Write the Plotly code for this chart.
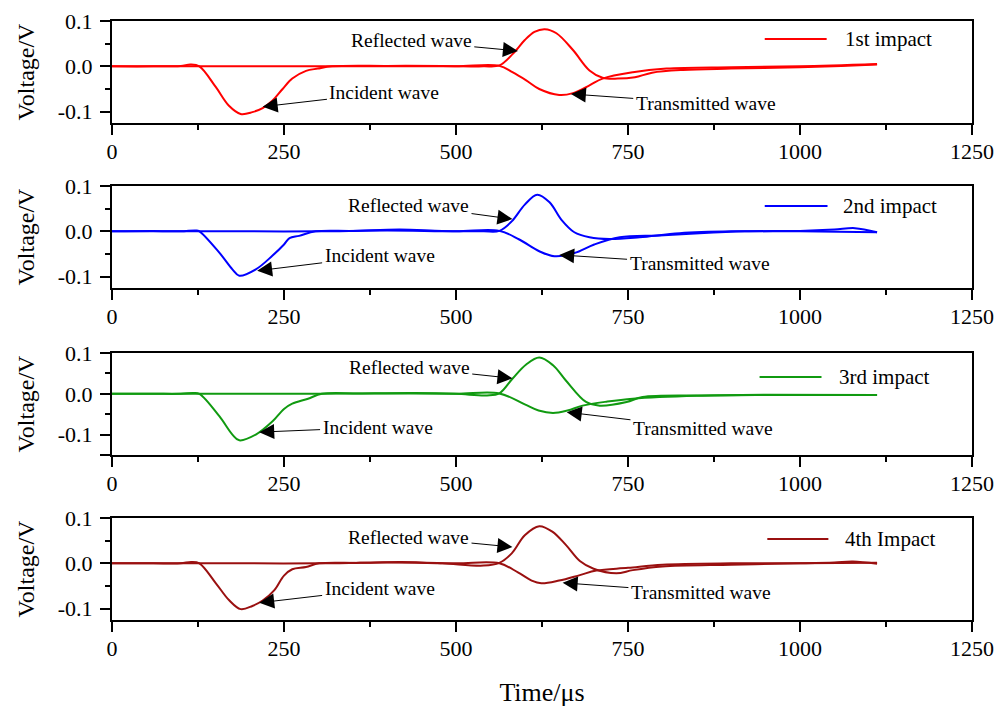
import plotly.graph_objects as go

FONT = "Liberation Serif, Times New Roman, serif"

# ---------------- data ----------------
# Panel 1 - 1st impact (incident + reflected signal, transmitted signal)
t1_ir = [0, 60, 100, 114, 127, 151, 170, 187, 204, 219, 233, 248, 262, 282, 299, 320, 400, 480, 540, 563,
         583, 600, 614, 629, 646, 670, 694, 713, 735, 760, 785, 830, 900, 1000, 1060, 1112]
v1_ir = [0, 0, 0.001, 0.004, 0, -0.046, -0.087, -0.105, -0.101, -0.092, -0.076, -0.05, -0.027, -0.01, -0.005, 0,
         0.001, 0.001, 0, 0.002, 0.028, 0.058, 0.076, 0.082, 0.073, 0.036, -0.009, -0.025, -0.027, -0.024,
         -0.014, -0.008, -0.005, -0.002, 0.001, 0.004]
t1_tr = [0, 100, 200, 300, 400, 500, 563, 582, 602, 621, 650, 670, 694, 713, 757, 806, 900, 1000, 1112]
v1_tr = [0, 0, 0, 0, 0, 0, 0.001, -0.013, -0.031, -0.05, -0.063, -0.059, -0.042, -0.027, -0.013, -0.005,
         -0.002, 0, 0.005]

# Panel 2 - 2nd impact
t2_ir = [0, 60, 100, 122, 127, 156, 175, 185, 209, 233, 250, 258, 272, 296, 350, 418, 480, 540, 563, 581,
         600, 618, 636, 653, 672, 694, 723, 767, 825, 900, 1000, 1112]
v2_ir = [0, 0.001, 0, 0.002, 0, -0.047, -0.084, -0.098, -0.084, -0.054, -0.029, -0.015, -0.01, 0, 0.001,
         0.004, 0.001, 0, 0.001, 0.022, 0.059, 0.081, 0.064, 0.026, -0.002, -0.013, -0.017, -0.013, -0.004,
         0, 0, -0.002]
t2_tr = [0, 100, 200, 300, 400, 500, 563, 592, 621, 643, 672, 701, 738, 796, 854, 920, 1000, 1050, 1080, 1112]
v2_tr = [0, 0, 0, 0, 0.002, 0, 0.001, -0.018, -0.044, -0.055, -0.048, -0.029, -0.013, -0.009, -0.004, 0,
         0.001, 0.004, 0.007, -0.002]

# Panel 3 - 3rd impact
t3_ir = [0, 60, 100, 118, 127, 156, 175, 185, 209, 233, 250, 262, 285, 305, 360, 440, 500, 545, 563, 582,
         602, 621, 641, 660, 689, 709, 748, 771, 850, 950, 1112]
v3_ir = [0, 0, 0, 0.002, 0, -0.055, -0.1, -0.114, -0.1, -0.068, -0.037, -0.024, -0.012, 0, 0.001, 0.002,
         0, -0.004, 0.001, 0.037, 0.072, 0.089, 0.07, 0.032, -0.02, -0.029, -0.02, -0.008, -0.004, -0.002,
         -0.003]
t3_tr = [0, 100, 200, 300, 400, 500, 563, 600, 620, 641, 662, 684, 720, 757, 850, 950, 1112]
v3_tr = [0, 0, 0, 0, 0.001, 0, 0.001, -0.026, -0.041, -0.047, -0.041, -0.029, -0.019, -0.012, -0.005,
         -0.003, -0.003]

# Panel 4 - 4th impact
t4_ir = [0, 60, 100, 115, 127, 151, 170, 187, 204, 219, 236, 250, 262, 282, 301, 360, 420, 480, 540, 563,
         581, 600, 621, 640, 660, 680, 700, 733, 757, 800, 900, 1000, 1050, 1077, 1112]
v4_ir = [0, 0, 0, 0.003, 0, -0.044, -0.081, -0.101, -0.094, -0.082, -0.059, -0.027, -0.013, -0.008, 0,
         0.001, 0.003, 0, -0.005, 0.001, 0.022, 0.062, 0.082, 0.07, 0.04, 0.005, -0.012, -0.022, -0.015,
         -0.007, -0.003, 0, 0.002, 0.004, -0.001]
t4_tr = [0, 100, 200, 300, 400, 500, 563, 590, 610, 624, 650, 680, 704, 750, 800, 900, 1000, 1112]
v4_tr = [0, 0, 0, 0, 0.002, 0, 0, -0.02, -0.038, -0.044, -0.038, -0.026, -0.016, -0.01, -0.003, 0, 0, 0.001]

series_names = ["1st impact", "2nd impact", "3rd impact", "4th Impact"]
series_colors = ["#ff0000", "#0000ff", "#109a10", "#9a1010"]

x_tick_vals = [0, 250, 500, 750, 1000, 1250]
x_tick_labels = ["0", "250", "500", "750", "1000", "1250"]
x_minor_vals = [125, 375, 625, 875, 1125]

y_tick_vals = [-0.1, 0.0, 0.1]
y_tick_labels = ["-0.1", "0.0", "0.1"]
y_tick_vals_p3 = [-0.15, -0.1, 0.0, 0.1]
y_tick_labels_p3 = ["", "-0.1", "0.0", "0.1"]
y_minor_vals = [-0.05, 0.05]

y_ranges = [[-0.125, 0.1], [-0.125, 0.1], [-0.15, 0.1], [-0.125, 0.1]]

# annotation anchors: (text centre t, v), (arrow head t, v)
ann_reflected = [((435, 0.056), (590, 0.034)), ((431, 0.058), (582, 0.027)),
                 ((432, 0.065), (582, 0.038)), ((431, 0.058), (582, 0.036))]
ann_incident = [((396, -0.058), (219, -0.089)), ((389, -0.054), (211, -0.087)),
                ((386, -0.082), (214, -0.094)), ((389, -0.056), (214, -0.087))]
ann_transmitted = [((863, -0.082), (667, -0.061)), ((854, -0.072), (650, -0.052)),
                   ((859, -0.085), (661, -0.045)), ((856, -0.065), (655, -0.043))]

# legend placement inside each panel (axis-domain fractions)
legend_pos = [(0.759, 0.831, 0.824, 0.850), (0.759, 0.832, 0.804, 0.848),
              (0.753, 0.825, 0.765, 0.843), (0.762, 0.833, 0.794, 0.850)]

# ---------------- figure ----------------
panels = [(t1_ir, v1_ir, t1_tr, v1_tr), (t2_ir, v2_ir, t2_tr, v2_tr),
          (t3_ir, v3_ir, t3_tr, v3_tr), (t4_ir, v4_ir, t4_tr, v4_tr)]

# vertical domains (paper fractions), top panel first
domains = [[0.8297, 1.0], [0.5543, 0.7245], [0.2755, 0.4457], [0.0, 0.1703]]

fig = go.Figure()
for i, (ta, va, tb, vb) in enumerate(panels):
    xa = "x" if i == 0 else f"x{i+1}"
    ya = "y" if i == 0 else f"y{i+1}"
    for tt, vv in ((ta, va), (tb, vb)):
        fig.add_trace(go.Scatter(x=tt, y=vv, mode="lines", xaxis=xa, yaxis=ya,
                                 line=dict(color=series_colors[i], width=2, shape="spline", smoothing=1.0),
                                 showlegend=False, hoverinfo="skip"))

tickfont = dict(family=FONT, size=22, color="black")
for i in range(4):
    sfx = "" if i == 0 else str(i + 1)
    xaxis = dict(domain=[0, 1], anchor="y" + sfx, range=[0, 1250], automargin=False,
                 tickmode="array", tickvals=x_tick_vals, ticktext=x_tick_labels,
                 ticks="outside", ticklen=10, tickwidth=2, tickcolor="black",
                 showline=True, linewidth=2, linecolor="black", mirror=True,
                 showgrid=False, zeroline=False, tickfont=tickfont, ticklabelstandoff=-2,
                 minor=dict(tickmode="array", tickvals=x_minor_vals, ticks="outside",
                            ticklen=5, tickwidth=2, tickcolor="black", showgrid=False))
    if i == 3:
        xaxis["title"] = dict(text="Time/μs", font=dict(family=FONT, size=26, color="black"), standoff=24)
    tv = y_tick_vals_p3 if i == 2 else y_tick_vals
    tl = y_tick_labels_p3 if i == 2 else y_tick_labels
    yaxis = dict(domain=domains[i], anchor="x" + sfx, range=y_ranges[i], automargin=False,
                 tickmode="array", tickvals=tv, ticktext=tl,
                 ticks="outside", ticklen=10, tickwidth=2, tickcolor="black",
                 showline=True, linewidth=2, linecolor="black", mirror=True,
                 showgrid=False, zeroline=False, tickfont=tickfont, ticklabelstandoff=3,
                 minor=dict(tickmode="array", tickvals=y_minor_vals, ticks="outside",
                            ticklen=5, tickwidth=2, tickcolor="black", showgrid=False),
                 title=dict(text="Voltage/V", font=dict(family=FONT, size=24, color="black"), standoff=16))
    fig.layout["xaxis" + sfx] = xaxis
    fig.layout["yaxis" + sfx] = yaxis

annotations = []
shapes = []
annfont = dict(family=FONT, size=19.5, color="black")
for i in range(4):
    xa = "x" if i == 0 else f"x{i+1}"
    ya = "y" if i == 0 else f"y{i+1}"
    for label, group in (("Reflected wave", ann_reflected), ("Incident wave", ann_incident),
                         ("Transmitted wave", ann_transmitted)):
        (tx, ty), (hx, hy) = group[i]
        annotations.append(dict(text=label, x=hx, y=hy, xref=xa, yref=ya, ax=tx, ay=ty,
                                axref=xa, ayref=ya, showarrow=True, arrowhead=2, arrowsize=3,
                                arrowwidth=1, arrowcolor="black", standoff=0, font=annfont,
                                borderpad=2))
    x0, x1, yy, xt = legend_pos[i]
    shapes.append(dict(type="line", xref=xa + " domain", yref=ya + " domain", x0=x0, x1=x1, y0=yy, y1=yy,
                       line=dict(color=series_colors[i], width=2)))
    annotations.append(dict(text=series_names[i], x=xt, y=yy, xref=xa + " domain", yref=ya + " domain",
                            xanchor="left", yanchor="middle", showarrow=False,
                            font=dict(family=FONT, size=21, color="black")))

fig.update_layout(width=1007, height=707, margin=dict(l=112, r=35, t=21, b=87),
                  paper_bgcolor="white", plot_bgcolor="white", showlegend=False,
                  annotations=annotations, shapes=shapes)

fig.write_html("out.html")
